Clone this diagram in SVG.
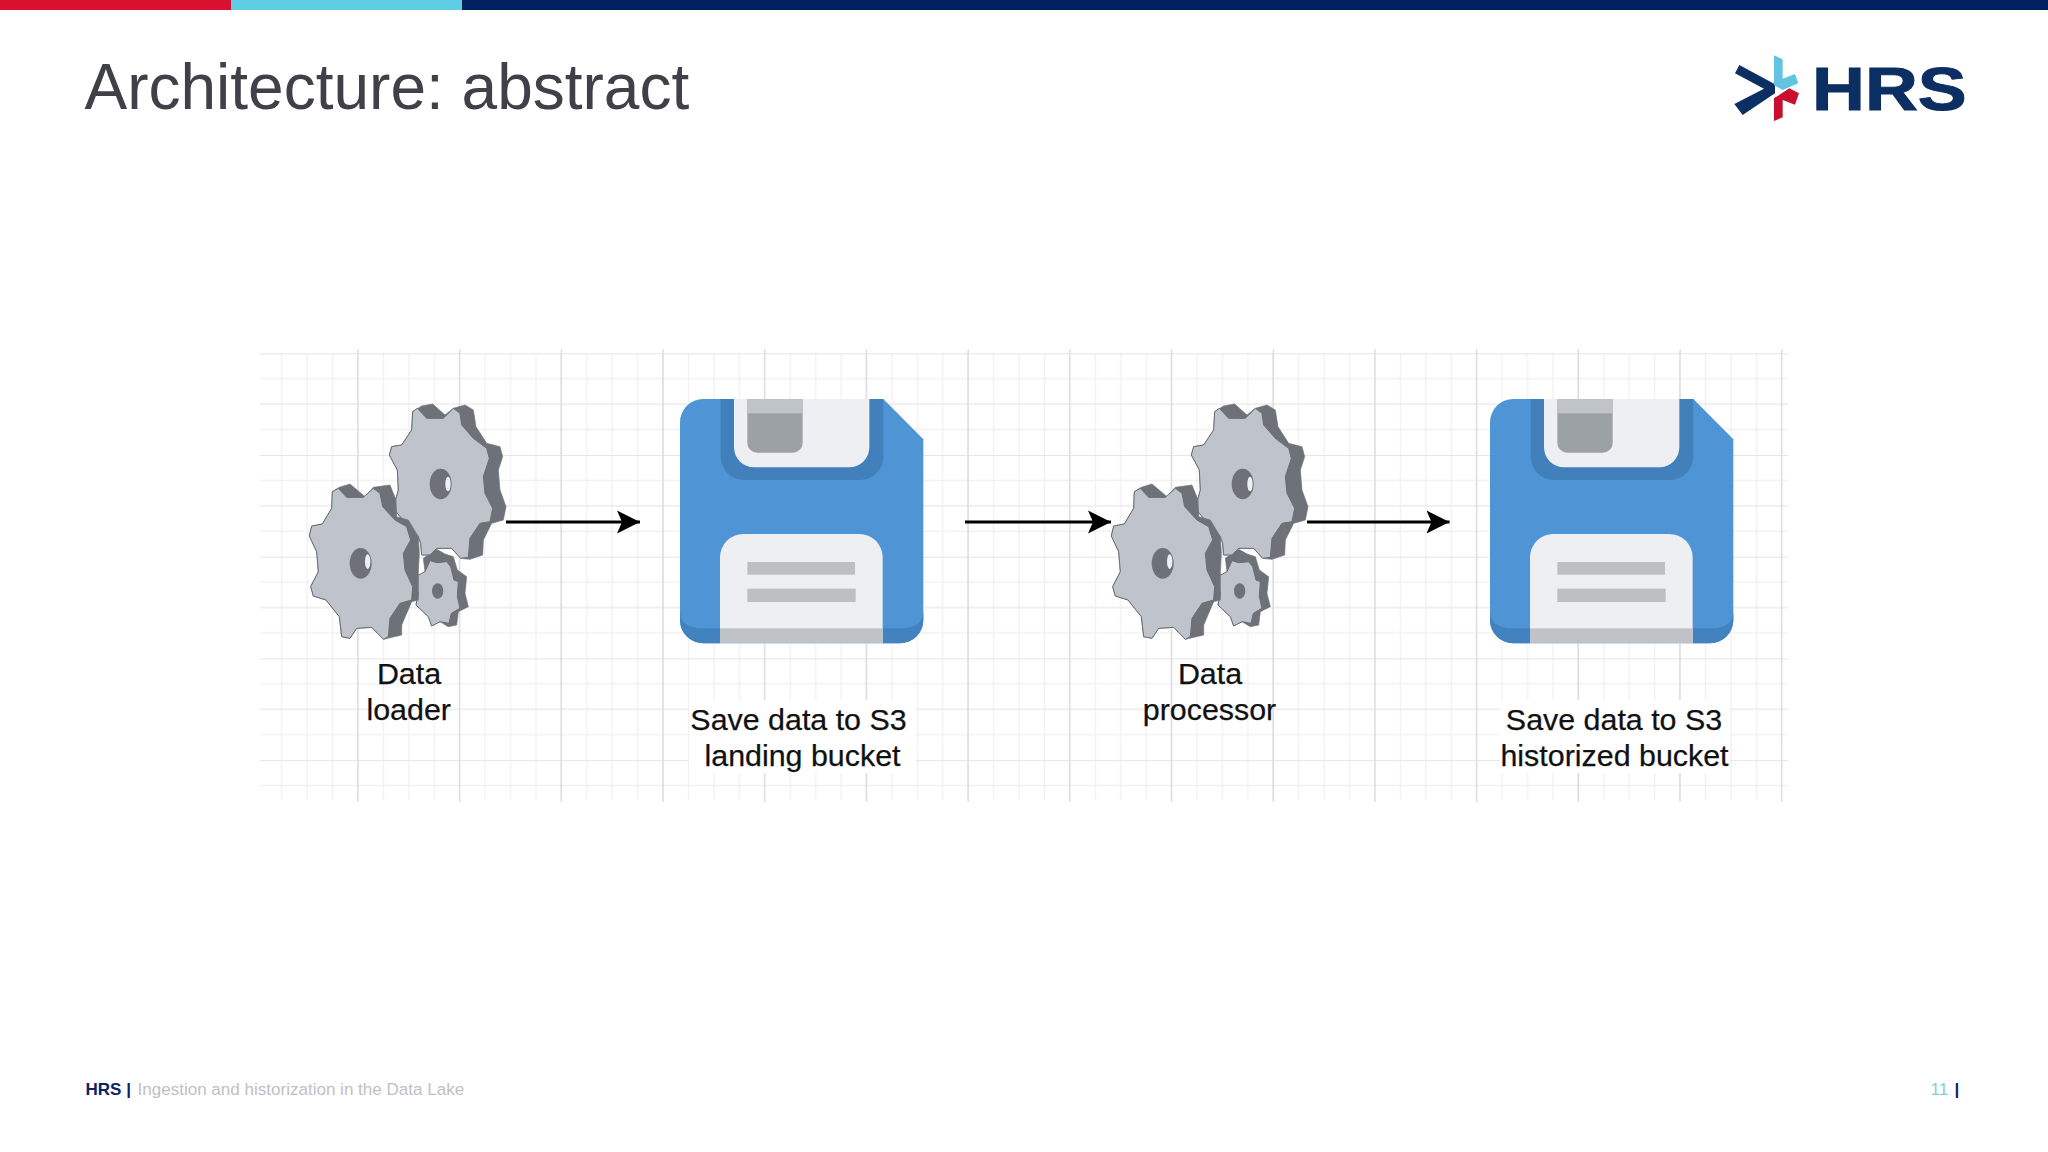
<svg xmlns="http://www.w3.org/2000/svg" xmlns:xlink="http://www.w3.org/1999/xlink" width="2048" height="1152" viewBox="0 0 2048 1152">
<style>
text{font-family:"Liberation Sans",Arial,sans-serif}
.lbl{font-size:30.4px;fill:#111;stroke:#111;stroke-width:.25;text-anchor:middle}
.foot{font-size:17.05px}
.dark{fill:#6e7278;stroke:#6e7278;stroke-width:2;stroke-linejoin:round}
.face{fill:#bfc3cc;stroke:#686c72;stroke-width:3;stroke-linejoin:round}
.hole{fill:#6e7278}
.glint{fill:#eef0f3}
.conn{stroke:#000;stroke-width:2.8;fill:none;marker-end:url(#head)}
.maj{stroke:#dedde2;stroke-width:1.4}
</style>
<defs>
<filter id="soft" x="-5%" y="-5%" width="110%" height="110%"><feGaussianBlur stdDeviation=".5"/></filter>
<marker id="head" markerUnits="userSpaceOnUse" markerWidth="26" markerHeight="26" refX="23" refY="12" orient="auto">
<path d="M0 0.5L23 12L0 23.5L5 12Z" fill="#000"/>
</marker>
<pattern id="grid" patternUnits="userSpaceOnUse" x="256.3" y="353.3" width="101.7" height="101.7">
<path d="M25.4 0V101.7M50.85 0V101.7M76.3 0V101.7M0 25.4H101.7M0 76.3H101.7" stroke="#f1f1f4" stroke-width="1.4" fill="none"/>
<path d="M0 50.85H101.7" stroke="#ebebef" stroke-width="1.4" fill="none"/>
<path d="M0 0H101.7M101.7 0V101.7" stroke="#dedde2" stroke-width="1.4" fill="none"/>
</pattern>
<g id="gears" transform="translate(290 380) scale(.33333)" filter="url(#soft)">
<path class="dark" d="M400 535L440 508L465 522L490 530L502 570L530 590L525 640L535 680L505 695L500 735L475 740L450 725L425 738L415 710L378 675L385 640L375 600L405 575Z"/>
<path class="face" d="M375 600L380 588L405 575L420 542L440 548L470 545L482 560L492 600L505 605L502 650L510 685L484 700L477 730L450 725L425 738L415 710L378 675L385 640Z"/>
<ellipse class="hole" cx="443" cy="633" rx="17" ry="23"/>
<path class="dark" d="M298 225L305 200L335 195L365 150L368 95L395 78L428 72L465 105L490 85L525 75L550 90L558 140L590 190L630 200L638 230L625 270L630 330L648 380L640 420L605 430L580 480L578 525L540 538L512 535L485 505L440 505L420 525L395 525L392 490L385 470L355 440L310 385L325 330L322 270Z"/>
<path class="face" d="M298 225L305 200L335 195L365 150L368 95L382 85L410 115L460 115L490 85L510 100L515 135L550 175L590 205L598 235L580 290L585 340L608 385L600 425L570 430L540 475L535 532L512 535L485 505L440 505L420 525L395 525L392 490L385 470L355 440L310 385L325 330L322 270Z"/>
<ellipse class="hole" cx="452" cy="312" rx="33" ry="46"/>
<ellipse class="glint" cx="474" cy="312" rx="8" ry="22"/>
<path class="dark" d="M127 335L148 322L180 312L225 350L250 322L300 315L318 360L320 410L355 420L385 470L388 520L385 575L385 660L365 665L335 735L335 765L280 778L245 742L200 745L180 775L155 770L148 710L108 660L70 648L62 620L85 575L80 515L58 468L65 438L97 432L125 385Z"/>
<path class="face" d="M58 468L65 438L97 432L125 385L127 335L145 325L170 352L220 352L250 325L270 340L278 380L315 420L350 440L362 480L340 520L345 570L368 620L365 660L330 670L300 715L295 770L280 778L245 742L200 745L180 775L155 770L148 710L108 660L70 648L62 620L85 575L80 515Z"/>
<ellipse class="hole" cx="212" cy="550" rx="33" ry="46"/>
<ellipse class="glint" cx="233" cy="545" rx="8" ry="22"/>
</g>
<g id="floppy" transform="translate(660 380) scale(.33333)" filter="url(#soft)">
<path d="M130 57H670L790 178V720A70 70 0 0 1 720 790H130A70 70 0 0 1 60 720V127A70 70 0 0 1 130 57Z" fill="#4f95d6"/>
<path d="M60 695Q62 745 130 745H180V790H130A70 70 0 0 1 60 720ZM790 695Q788 745 720 745H668V790H720A70 70 0 0 0 790 720Z" fill="#4383bf"/>
<path d="M182 57H670V230A70 70 0 0 1 600 300H252A70 70 0 0 1 182 230Z" fill="#4380bb"/>
<path d="M222 57H628V202A60 60 0 0 1 568 262H282A60 60 0 0 1 222 202Z" fill="#edeff3"/>
<path d="M262 57H428V188A30 30 0 0 1 398 218H292A30 30 0 0 1 262 188Z" fill="#9ca1a5"/>
<rect x="262" y="57" width="166" height="43" fill="#c0c3c8"/>
<path d="M180 790V532A70 70 0 0 1 250 462H598A70 70 0 0 1 668 532V790Z" fill="#edeff3"/>
<rect x="180" y="745" width="488" height="45" fill="#bfc2c6"/>
<rect x="262" y="546" width="323" height="38" fill="#bdbfc3"/>
<rect x="262" y="626" width="325" height="40" fill="#bdbfc3"/>
</g>
</defs>
<rect width="2048" height="1152" fill="#fff"/>
<g id="topbar">
<rect width="231" height="10" fill="#d9102f"/>
<rect x="231" width="231" height="10" fill="#5fcde4"/>
<rect x="462" width="1586" height="10" fill="#002060"/>
</g>
<text id="title" x="84.5" y="109" font-size="64" fill="#404048">Architecture: abstract</text>
<g id="logo" transform="translate(1700 30) scale(.33333)">
<path d="M118 105L225 163V190L128 255L103 222L192 176L105 130Z" fill="#0c2f63"/>
<path d="M222 76L248 88V146L285 132L295 160L248 180L222 165Z" fill="#62c4e0"/>
<path d="M222 273L248 262V210L285 224L297 190L268 175L222 205Z" fill="#c8102e"/>
<text x="336" y="240" font-size="184" font-weight="700" fill="#0c2f63" stroke="#0c2f63" stroke-width="3" textLength="464" lengthAdjust="spacingAndGlyphs">HRS</text>
</g>
<g id="grid-bg">
<rect x="260" y="353" width="1528" height="447" fill="url(#grid)"/>
<path class="maj" d="M358 349V802M459.7 349V802M561.4 349V802M663.1 349V802M764.8 349V802M866.5 349V802M968.2 349V802M1069.9 349V802M1171.6 349V802M1273.3 349V802M1375 349V802M1476.7 349V802M1578.4 349V802M1680.1 349V802M1781.8 349V802"/>
<rect x="689" y="700" width="227" height="73" fill="#fff"/>
<rect x="1500" y="700" width="230" height="73" fill="#fff"/>
</g>
<g id="connectors">
<line class="conn" x1="506" y1="522" x2="640" y2="522"/>
<line class="conn" x1="965" y1="522" x2="1111" y2="522"/>
<line class="conn" x1="1307" y1="522" x2="1449.5" y2="522"/>
</g>
<g id="data-loader">
<use href="#gears" xlink:href="#gears"/>
<text class="lbl" x="409" y="683.5">Data</text>
<text class="lbl" x="408.7" y="720">loader</text>
</g>
<g id="landing-bucket">
<use href="#floppy" xlink:href="#floppy"/>
<text class="lbl" x="798.5" y="729.5">Save data to S3</text>
<text class="lbl" x="802.5" y="765.5">landing bucket</text>
</g>
<g id="data-processor">
<use href="#gears" xlink:href="#gears" x="802"/>
<text class="lbl" x="1210" y="683.5">Data</text>
<text class="lbl" x="1209.5" y="720">processor</text>
</g>
<g id="historized-bucket">
<use href="#floppy" xlink:href="#floppy" x="810"/>
<text class="lbl" x="1614" y="729.5">Save data to S3</text>
<text class="lbl" x="1614.5" y="765.5">historized bucket</text>
</g>
<g id="footer">
<text class="foot" x="85.5" y="1095" font-weight="700" fill="#0a2461">HRS |</text>
<text class="foot" x="137.5" y="1095" fill="#bfc0c6">Ingestion and historization in the Data Lake</text>
<text class="foot" x="1930.5" y="1095" fill="#7fcfe0">11</text>
<text class="foot" x="1954.5" y="1095" font-weight="700" fill="#0a2461">|</text>
</g>
</svg>
